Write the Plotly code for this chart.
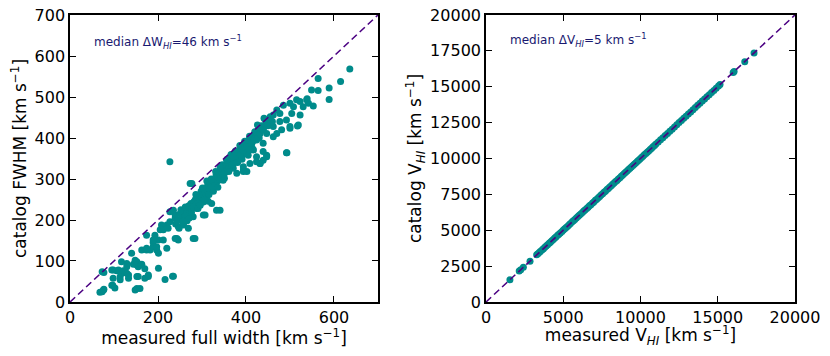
import plotly.graph_objects as go

# Left panel: (measured full width, catalog FWHM) in km/s
width_low = [(68,24),(73,25),(77,31),(76,29),(73,74),(77,72),(98,78),(95,78),(106,76),(97,41),
             (95,41),(98,58),(102,34),(110,78),(114,62),(114,54),(117,70),(117,98),(121,76),(129,86),
             (129,70),(133,66),(129,94),(133,58),(140,119),(144,92),(148,102),(152,98),(152,90),(155,86),
             (155,62),(163,92),(152,62),(148,29),(152,33),(159,33),(163,90),(170,81),(170,58),(178,62),
             (178,66),(163,127),(174,127),(174,131),(174,163),(182,127),(189,135),(189,145),(197,127),(193,163),
             (201,151),(189,151),(197,135),(201,119),(201,82),(205,176),(208,188),(212,151),(212,176),(216,55),
             (220,131),(220,188),(233,63),(235,63)]
width_mid = [(223,180),(227,196),(227,220),(239,204),(239,212),(235,224),(243,155),(246,151),(246,184),(254,200),
             (258,188),(265,208),(269,180),(273,220),(277,236),(277,289),(273,289),(284,155),(280,208),(288,228),
             (295,240),(299,265),(303,244),(303,212),(307,212),(311,258),(314,246),(322,240),(333,224),(341,224),
             (326,289),(333,305),(341,318),(348,297),(356,322),(364,338),(371,326),(379,346),(394,322),(390,354),
             (405,358),(432,338),(439,346),(447,358),(492,364),(227,342),(280,155),(239,155),
             (250,215),(255,205),(260,220),(262,210),(268,225),(270,235),(272,215),(275,240),(278,228),(282,245),
             (285,250),(285,235),(288,255),(290,242),(292,260),(295,250),(298,270),(300,255),(302,262),(305,275),
             (308,265),(310,280),(312,270),(315,285),(318,275),(320,290),(322,280),(325,295),(328,300),(330,285),
             (332,310),(335,295),(338,305),(340,315),(342,300),(345,320),(348,310),(350,330),(352,315),(355,335),
             (358,325),(360,340),(362,330),(365,345),(368,335),(370,350),(372,340),(375,355),(378,345),(380,365),
             (383,350),(385,370),(388,360),(390,375),(393,365),(396,380),(398,370),(400,390),(403,380),(406,395),
             (410,385),(412,400),(415,390),(418,405),(420,415),(425,410),(428,420),(430,400),(435,430),(440,425),
             (445,440),(450,430),(455,445),(460,440),
             (240,190),(244,200),(248,180),(252,225),(256,195),(262,232),(266,198),(271,205),(276,218),(281,232),
             (286,262),(291,228),(296,236),(301,278),(306,250),(311,295),(316,262),(321,300),(326,270),(331,318),
             (336,280),(341,298),(346,335),(351,302),(357,348),(361,318),(366,360),(371,336),(376,368),(381,340),
             (386,382),(391,348),(397,392),(402,362),(408,404),(414,376),(420,398),(426,432),(433,418),(441,448)]
width_high = [(341,330),(356,346),(371,354),(386,359),(394,371),(402,379),(413,387),(424,395),(432,411),(439,420),
              (447,436),(455,452),(462,456),(470,468),(477,460),(485,480),(500,485),(508,476),(523,456),(504,460),
              (492,444),(477,440),(462,428),(447,411),(417,371),(439,387),(462,403),(439,367),(424,354),(409,338),
              (394,330),(379,314),(402,318),(432,338),(447,354),(470,411),(481,420),(500,428),(519,432),(538,493),
              (542,485),(530,476),(515,493),(523,489),(517,429),(500,424),(493,364),(553,478),(539,496),(549,517),
              (564,516),(589,522),(589,494),(564,545),(615,538),(636,568),(409,371),(394,318),(424,342)]

width_points = width_low + width_mid + width_high
measured_width = [p[0] for p in width_points]
catalog_fwhm = [p[1] for p in width_points]

# Right panel: (measured V_HI, catalog V_HI) in km/s
vel_points = [(1550,1548),(2150,2156),(2250,2247),(2420,2425),(2850,2846),(3280,3284),(3360,3357),(3450,3455),
              (3530,3528),(3640,3645),(3720,3716),(3810,3808),(3900,3905),(3990,3987),(4090,4094),(4170,4166),
              (4260,4263),(4360,4355),(4450,4452),(4530,4528),(4640,4646),(4720,4717),(4810,4813),(4920,4916),
              (5010,5014),(5100,5096),(5190,5195),(5290,5286),(5380,5383),(5470,5466),(5580,5584),(5660,5657),
              (5750,5754),(5850,5846),(5950,5953),(6040,6037),(6130,6135),(6240,6236),(6330,6334),(6410,6407),
              (6520,6524),(6610,6606),(6700,6703),(6790,6785),(6900,6905),(6980,6976),(7080,7084),(7170,7166),
              (7270,7273),(7360,7355),(7450,7453),(7550,7546),(7640,7644),(7730,7726),(7830,7834),(7920,7915),
              (8010,8013),(8110,8106),(8200,8204),(8290,8286),(8390,8393),(8480,8475),(8570,8574),(8670,8665),
              (8760,8763),(8850,8846),(8950,8954),(9040,9035),(9130,9134),(9230,9226),(9320,9323),(9410,9406),
              (9510,9514),(9600,9596),(9690,9693),(9790,9785),(9880,9884),(9970,9966),(10070,10074),(10160,10155),
              (10250,10254),(10350,10346),(10440,10443),(10530,10526),(10630,10634),(10720,10715),(10810,10814),
              (10910,10906),(11000,11004),(11150,11146),(11300,11304),(11450,11445),(11600,11603),(11750,11746),
              (11900,11904),(12050,12046),(12200,12203),(12350,12345),(12500,12504),(12650,12646),(12800,12803),
              (12950,12946),(13100,13104),(13250,13245),(13400,13403),(13550,13546),(13700,13704),(13850,13845),
              (14000,14003),(14150,14146),(14300,14304),(14450,14446),(14600,14603),(14750,14746),(14900,14904),
              (15050,15046),(15150,15153),(16000,15996),(16060,16063),(16750,16746),(17350,17353)]
measured_v = [p[0] for p in vel_points]
catalog_v = [p[1] for p in vel_points]

width_range = [0, 700]
vel_range = [0, 20000]
width_xticks = [0, 200, 400, 600]
width_yticks = [0, 100, 200, 300, 400, 500, 600, 700]
vel_xticks = [0, 5000, 10000, 15000, 20000]
vel_yticks = [0, 2500, 5000, 7500, 10000, 12500, 15000, 17500, 20000]

TEAL = "#008b8b"
INDIGO = "#4b0082"
FONT = "DejaVu Sans"

fig = go.Figure()
fig.add_trace(go.Scatter(x=measured_width, y=catalog_fwhm, mode="markers",
                         marker=dict(size=7, color=TEAL, line=dict(width=0)),
                         xaxis="x", yaxis="y", showlegend=False))
fig.add_trace(go.Scatter(x=width_range, y=width_range, mode="lines",
                         line=dict(color=INDIGO, width=1.6, dash="7px,4px"),
                         xaxis="x", yaxis="y", showlegend=False))
fig.add_trace(go.Scatter(x=measured_v, y=catalog_v, mode="markers",
                         marker=dict(size=7, color=TEAL, line=dict(width=0)),
                         xaxis="x2", yaxis="y2", showlegend=False))
fig.add_trace(go.Scatter(x=vel_range, y=vel_range, mode="lines",
                         line=dict(color=INDIGO, width=1.6, dash="7px,4px"),
                         xaxis="x2", yaxis="y2", showlegend=False))

axis_common = dict(showline=True, linecolor="black", linewidth=1.5, mirror="ticks",
                   ticks="inside", ticklen=6, tickwidth=1.3, tickcolor="black",
                   showgrid=False, zeroline=False, automargin=False,
                   ticklabeloverflow="allow",
                   tickfont=dict(family=FONT, size=16, color="black"),
                   title_font=dict(family=FONT, size=17, color="black"))

fig.update_layout(
    width=814, height=340,
    margin=dict(l=0, r=0, t=0, b=0),
    paper_bgcolor="white", plot_bgcolor="white",
    font=dict(family=FONT, color="black"),
    xaxis=dict(domain=[0.0762, 0.4545], range=width_range, tickvals=width_xticks,
               ticktext=[str(v) for v in width_xticks],
               title=dict(text="measured full width [km s<sup>−1</sup>]", standoff=6),
               anchor="y", **axis_common),
    yaxis=dict(domain=[0.1353, 0.9794], range=width_range, tickvals=width_yticks,
               ticktext=[str(v) for v in width_yticks],
               title=dict(text="catalog FWHM [km s<sup>−1</sup>]", standoff=4),
               anchor="x", **axis_common),
    xaxis2=dict(domain=[0.5872, 0.9668], range=vel_range, tickvals=vel_xticks,
                ticktext=[str(v) for v in vel_xticks],
                title=dict(text="measured V<sub><i>HI</i></sub> [km s<sup>−1</sup>]", standoff=6),
                anchor="y2", **axis_common),
    yaxis2=dict(domain=[0.1353, 0.9794], range=vel_range, tickvals=vel_yticks,
                ticktext=[str(v) for v in vel_yticks],
                title=dict(text="catalog V<sub><i>HI</i></sub> [km s<sup>−1</sup>]", standoff=4),
                anchor="x2", **axis_common),
    annotations=[
        dict(text="median ΔW<sub><i>HI</i></sub>=46 km s<sup>−1</sup>", x=0.071, y=0.906,
             xref="x domain", yref="y domain", xanchor="left", yanchor="middle", showarrow=False,
             font=dict(family=FONT, size=12, color="#191970")),
        dict(text="median ΔV<sub><i>HI</i></sub>=5 km s<sup>−1</sup>", x=0.071, y=0.913,
             xref="x2 domain", yref="y2 domain", xanchor="left", yanchor="middle", showarrow=False,
             font=dict(family=FONT, size=12, color="#191970")),
    ],
)

fig.write_html("out.html")
